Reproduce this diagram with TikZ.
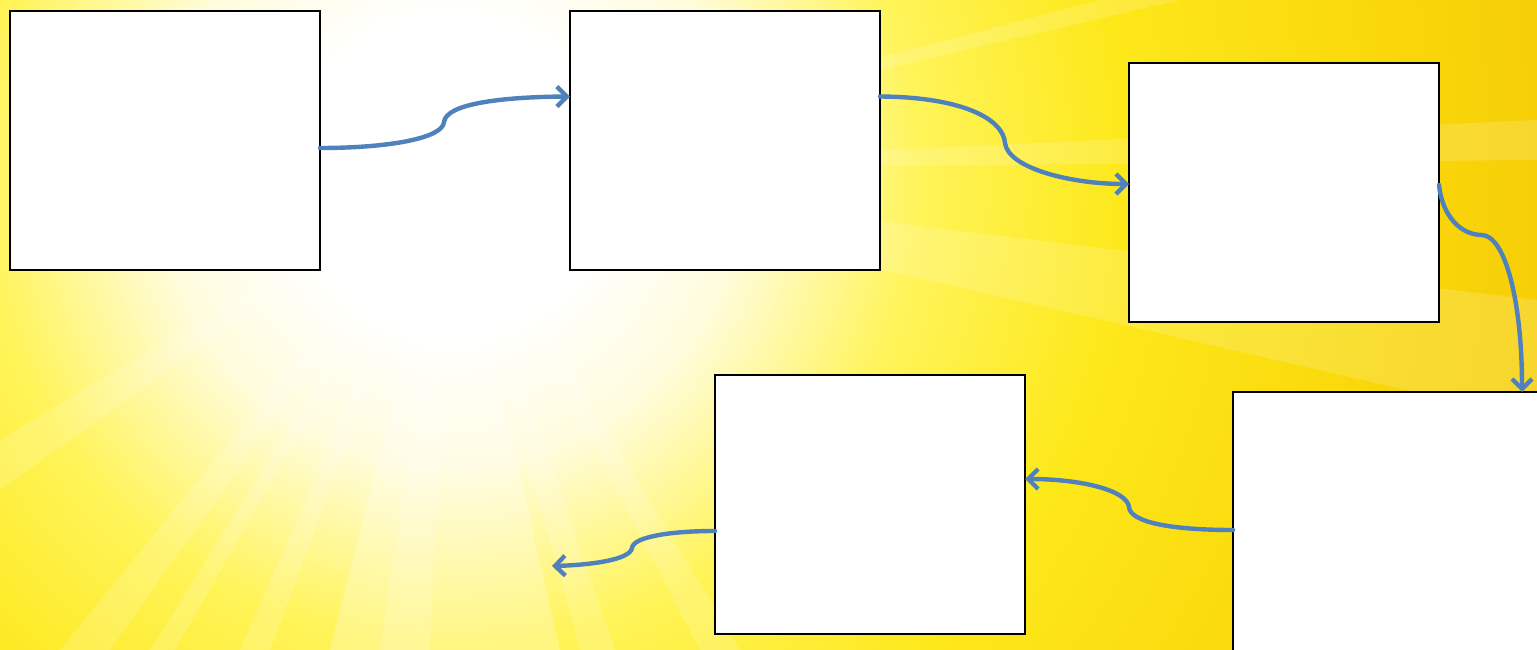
\documentclass[tikz,border=0pt]{standalone}
\usetikzlibrary{arrows.meta}
\definecolor{flowblue}{HTML}{4F81BD}
\definecolor{sunA}{HTML}{FFFCDC}
\definecolor{sunB}{HTML}{FFF45A}
\definecolor{sunC}{HTML}{FDE81A}
\definecolor{sunD}{HTML}{F9D60A}
\definecolor{sunE}{HTML}{F2C300}
\pgfdeclareradialshading{sunglow}{\pgfpoint{0bp}{0bp}}{%
  color(0bp)=(white); color(3bp)=(white); color(5.6bp)=(sunA);
  color(9bp)=(sunB); color(13bp)=(sunC); color(18.5bp)=(sunD); color(25bp)=(sunE); color(50bp)=(sunE)}
\tikzset{
  panel/.style={draw=black, line width=2pt, fill=white, minimum width=310pt,
    minimum height=259pt, inner sep=0pt, outer sep=0pt},
  flow/.style={draw=flowblue, line width=4.4pt, line cap=round,
    -{Straight Barb[length=10pt,width=20pt,line width=4.4pt]}},
  ray/.style={fill=white, opacity=0.16}
}
\begin{document}
\begin{tikzpicture}[x=1pt,y=-1pt]
\useasboundingbox (0,0) rectangle (1537,650);
\begin{scope}
  \clip (0,0) rectangle (1537,650);
  \shade[shading=sunglow] (450,175) circle (1300);
  % soft downward beam
  \fill[white, opacity=0.25] (450,170) -- (330,650) -- (560,650) -- cycle;
  % rays
  \fill[ray] (450,170) -- (0,440) -- (0,490) -- cycle;
  \fill[ray] (450,170) -- (60,650) -- (110,650) -- cycle;
  \fill[ray] (450,170) -- (150,650) -- (175,650) -- cycle;
  \fill[ray] (450,170) -- (240,650) -- (270,650) -- cycle;
  \fill[ray] (450,170) -- (380,650) -- (430,650) -- cycle;
  \fill[ray] (450,170) -- (580,650) -- (615,650) -- cycle;
  \fill[ray] (450,170) -- (700,650) -- (740,650) -- cycle;
  \fill[ray] (450,170) -- (1537,300) -- (1537,420) -- cycle;
  \fill[ray] (450,170) -- (1537,120) -- (1537,160) -- cycle;
  \fill[ray] (450,170) -- (1100,0) -- (1180,0) -- cycle;
\end{scope}
\node[panel, anchor=north west] (b1) at (10,11) {};
\node[panel, anchor=north west] (b2) at (570,11) {};
\node[panel, anchor=north west] (b3) at (1129,63) {};
\node[panel, anchor=north west] (b4) at (1233,392) {};
\node[panel, anchor=north west] (b5) at (715,375) {};
\coordinate (out) at (552,566);
% connectors
\draw[flow] ([yshift=-7.5pt]b1.east) .. controls (390,148) and (443,138) .. (444,122)
  .. controls (446,104) and (500,97) .. ([yshift=44pt]b2.west);
\draw[flow] ([yshift=44pt]b2.east) .. controls (960,97) and (1003,118) .. (1005,143)
  .. controls (1008,168) and (1070,184) .. ([yshift=8.5pt]b3.west);
\draw[flow] ([yshift=7.5pt]b3.east) .. controls (1442,215) and (1460,235) .. (1482,235)
  .. controls (1505,236) and (1522,300) .. ([xshift=134pt]b4.north);
\draw[flow] ([yshift=-8.5pt]b4.west) .. controls (1170,530) and (1130,522) .. (1129,507)
  .. controls (1127,490) and (1080,479) .. ([yshift=25.5pt]b5.east);
\draw[flow] ([yshift=-26.5pt]b5.west) .. controls (670,531) and (633,537) .. (632,548)
  .. controls (630,560) and (590,565) .. (out);
\end{tikzpicture}
\end{document}
